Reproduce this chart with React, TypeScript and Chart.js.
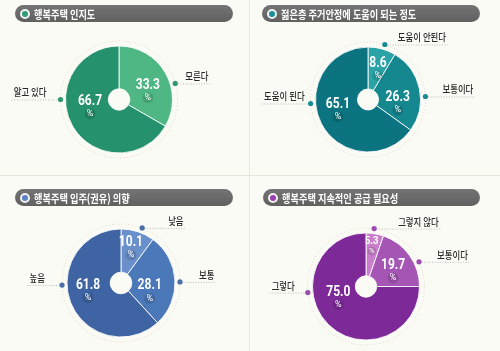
import React, { useEffect, useRef } from "react";
import { Chart, registerables } from "chart.js";

Chart.register(...registerables);

// ---- data ----
const awarenessTitle = "행복주택 인지도";
const awarenessLabels = ["모른다", "알고 있다"];
const awarenessValues = [33.3, 66.7];

const stabilityTitle = "젊은층 주거안정에 도움이 되는 정도";
const stabilityLabels = ["도움이 안된다", "보통이다", "도움이 된다"];
const stabilityValues = [8.6, 26.3, 65.1];

const intentTitle = "행복주택 입주(권유) 의향";
const intentLabels = ["낮음", "보통", "높음"];
const intentValues = [10.1, 28.1, 61.8];

const supplyTitle = "행복주택 지속적인 공급 필요성";
const supplyLabels = ["그렇지 않다", "보통이다", "그렇다"];
const supplyValues = [5.3, 19.7, 75.0];

// ---- styles / layout ----
type PanelCfg = {
  title: string;
  labels: string[];
  values: number[];
  colors: string[];
  dotColor: string;
  iconColor: string;
  left: number;
  top: number;
  cx: number;
  cy: number;
  r: number;
  pill: { x: number; y: number; w: number };
  dotAngles: number[];
  labelGaps: number[];
  valueAngles: number[];
  valueDists: number[];
};

const W = 250;
const H = 175;

const panels: PanelCfg[] = [
  {
    title: awarenessTitle,
    labels: awarenessLabels,
    values: awarenessValues,
    colors: ["#4fb784", "#25916d"],
    dotColor: "#2f9a72",
    iconColor: "#2e9d72",
    left: 0,
    top: 0,
    cx: 119,
    cy: 99.5,
    r: 53,
    pill: { x: 15, y: 5, w: 218 },
    dotAngles: [-16, 180],
    labelGaps: [10, 14],
    valueAngles: [-16, 165],
    valueDists: [30, 30],
  },
  {
    title: stabilityTitle,
    labels: stabilityLabels,
    values: stabilityValues,
    colors: ["#2aa3a7", "#15878f", "#0c7480"],
    dotColor: "#168c95",
    iconColor: "#1a8f98",
    left: 250,
    top: 0,
    cx: 118,
    cy: 99.5,
    r: 52,
    pill: { x: 262, y: 5, w: 218 },
    dotAngles: [-73, -3, 176],
    labelGaps: [13, 17, 6],
    valueAngles: [-72, 8, 160],
    valueDists: [32, 30, 32],
  },
  {
    title: intentTitle,
    labels: intentLabels,
    values: intentValues,
    colors: ["#6a90cb", "#4b78b8", "#3e64a3"],
    dotColor: "#4a6ea8",
    iconColor: "#5a82c4",
    left: 0,
    top: 176,
    cx: 121,
    cy: 107,
    r: 53.5,
    pill: { x: 15, y: 189, w: 218 },
    dotAngles: [-69, -1, 178],
    labelGaps: [26, 19, 17],
    valueAngles: [-74, 17, 166],
    valueDists: [36, 30, 34],
  },
  {
    title: supplyTitle,
    labels: supplyLabels,
    values: supplyValues,
    colors: ["#c97fcb", "#a556b5", "#7d2a98"],
    dotColor: "#9b4bb0",
    iconColor: "#9b3fb0",
    left: 250,
    top: 176,
    cx: 116,
    cy: 110.5,
    r: 53,
    pill: { x: 263, y: 189, w: 217 },
    dotAngles: [-82, -25, 174],
    labelGaps: [24, 18, 13],
    valueAngles: [-82, -29, 157],
    valueDists: [41, 31, 30],
  },
];

function drawScaled(
  ctx: CanvasRenderingContext2D,
  text: string,
  x: number,
  y: number,
  align: CanvasTextAlign,
  sx: number
) {
  ctx.save();
  ctx.translate(x, y);
  ctx.scale(sx, 1);
  ctx.textAlign = align;
  ctx.textBaseline = "middle";
  ctx.fillText(text, 0, 0);
  ctx.restore();
}

const pieLabels = {
  id: "pieLabels",
  afterDatasetsDraw(chart: any, _args: any, opts: any) {
    const meta = chart.getDatasetMeta(0);
    const ctx: CanvasRenderingContext2D = chart.ctx;
    const a0 = meta.data[0] as any;
    const cx = a0.x;
    const cy = a0.y;
    const R = a0.outerRadius;
    const ringR = R + 5;
    const labels: string[] = chart.data.labels;
    const values: number[] = chart.data.datasets[0].data;

    ctx.save();
    // outer dotted ring
    ctx.beginPath();
    ctx.arc(cx, cy, ringR, 0, Math.PI * 2);
    ctx.setLineDash([1.2, 2]);
    ctx.lineWidth = 1;
    ctx.strokeStyle = "rgba(215,195,175,0.55)";
    ctx.stroke();

    // category labels with dots and leader lines
    const sx = 0.8;
    ctx.font = '500 10.5px "Noto Sans CJK KR"';
    labels.forEach((lab, i) => {
      const ang = (opts.dotAngles[i] * Math.PI) / 180;
      const dx = cx + Math.cos(ang) * ringR;
      const dy = cy + Math.sin(ang) * ringR;
      const w = ctx.measureText(lab).width * sx;
      const gap = opts.labelGaps[i];
      const right = Math.cos(ang) >= 0;
      ctx.beginPath();
      ctx.setLineDash([1, 1.6]);
      ctx.strokeStyle = "rgba(140,140,140,0.7)";
      ctx.lineWidth = 0.8;
      if (right) {
        ctx.moveTo(dx, dy + 0.5);
        ctx.lineTo(dx + gap + w + 2, dy + 0.5);
      } else {
        ctx.moveTo(dx - gap - w - 2, dy + 0.5);
        ctx.lineTo(dx, dy + 0.5);
      }
      ctx.stroke();
      ctx.setLineDash([]);
      ctx.beginPath();
      ctx.arc(dx, dy, 2.6, 0, Math.PI * 2);
      ctx.fillStyle = opts.dotColor;
      ctx.fill();
      ctx.fillStyle = "#2a2a2a";
      if (right) drawScaled(ctx, lab, dx + gap, dy - 7, "left", sx);
      else drawScaled(ctx, lab, dx - gap, dy - 7, "right", sx);
    });

    // value labels inside slices
    values.forEach((v, i) => {
      const ang = (opts.valueAngles[i] * Math.PI) / 180;
      const d = opts.valueDists[i];
      const gx = cx + Math.cos(ang) * d;
      const gy = cy + Math.sin(ang) * d;
      const small = v < 7;
      const fs = small ? 11 : 14;
      ctx.beginPath();
      ctx.arc(gx, gy + (small ? 5 : 6.5), small ? 4.5 : 5.5, 0, Math.PI * 2);
      ctx.fillStyle = "rgba(0,0,0,0.13)";
      ctx.fill();
      ctx.fillStyle = "#ffffff";
      ctx.font = `bold ${fs}px Roboto`;
      drawScaled(ctx, v.toFixed(1), gx, gy - (small ? 4.5 : 6), "center", 0.86);
      ctx.font = `${small ? 8 : 9}px Roboto`;
      drawScaled(ctx, "%", gx, gy + (small ? 5 : 6.5), "center", 1);
    });
    ctx.restore();
  },
};

function Panel({ cfg }: { cfg: PanelCfg }) {
  const ref = useRef<HTMLCanvasElement | null>(null);
  useEffect(() => {
    if (!ref.current) return;
    const R = cfg.r + 1;
    const chart = new Chart(ref.current, {
      type: "doughnut",
      data: {
        labels: cfg.labels,
        datasets: [
          {
            data: cfg.values,
            backgroundColor: cfg.colors,
            borderColor: "rgba(255,255,255,0.85)",
            borderWidth: 1,
          },
        ],
      },
      options: {
        responsive: false,
        animation: false,
        cutout: "20%",
        layout: {
          padding: {
            left: cfg.cx - R,
            top: cfg.cy - R,
            right: W - cfg.cx - R,
            bottom: H - cfg.cy - R,
          },
        },
        plugins: {
          legend: { display: false },
          tooltip: { enabled: false },
          pieLabels: {
            dotAngles: cfg.dotAngles,
            labelGaps: cfg.labelGaps,
            valueAngles: cfg.valueAngles,
            valueDists: cfg.valueDists,
            dotColor: cfg.dotColor,
          },
        } as any,
      },
      plugins: [pieLabels as any],
    });
    return () => chart.destroy();
  }, [cfg]);

  return (
    <>
      <canvas
        ref={ref}
        width={W}
        height={H}
        style={{ position: "absolute", left: cfg.left, top: cfg.top, width: W, height: H }}
      />
      <div
        style={{
          position: "absolute",
          left: cfg.pill.x,
          top: cfg.pill.y,
          width: cfg.pill.w,
          height: 17,
          borderRadius: 9,
          background: "linear-gradient(#747474, #606060)",
          display: "flex",
          alignItems: "center",
          overflow: "hidden",
        }}
      >
        <span
          style={{
            display: "inline-block",
            boxSizing: "border-box",
            width: 10,
            height: 10,
            marginLeft: 5,
            borderRadius: "50%",
            border: "2px solid #f2f2f2",
            background: cfg.iconColor,
            flex: "none",
          }}
        />
        <span
          style={{
            marginLeft: 4,
            color: "#ffffff",
            font: 'bold 11.5px "Noto Sans CJK KR"',
            whiteSpace: "nowrap",
            transform: "scaleX(0.8)",
            transformOrigin: "left center",
            display: "inline-block",
          }}
        >
          {cfg.title}
        </span>
      </div>
    </>
  );
}

export default function App() {
  return (
    <div
      style={{
        position: "absolute",
        left: 0,
        top: 0,
        width: 500,
        height: 351,
        background: "#fbfbf5",
        overflow: "hidden",
      }}
    >
      <div style={{ position: "absolute", left: 0, top: 175, width: 500, height: 1, background: "#e6e6dc" }} />
      <div style={{ position: "absolute", left: 249, top: 0, width: 1, height: 351, background: "#e6e6dc" }} />
      {panels.map((p, i) => (
        <Panel key={i} cfg={p} />
      ))}
    </div>
  );
}
